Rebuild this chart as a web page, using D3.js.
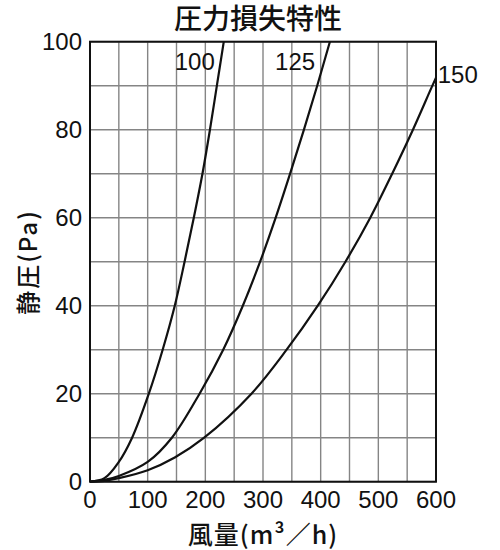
<!DOCTYPE html>
<html>
<head>
<meta charset="utf-8">
<script src="https://cdn.jsdelivr.net/npm/d3@7"></script>
<style>
  body { margin: 0; background: #fff; }
  svg { display: block; }
</style>
</head>
<body>
<svg id="chart" width="500" height="550"></svg>
<script>
// readings: flow (m3/h) against static pressure (Pa)
var flow100 = [0, 25, 50, 73, 102, 126, 147, 164, 180, 195, 208, 220, 232];
var pa100   = [0, 0.8, 4.5, 10, 20, 30, 40, 50, 60, 70, 80, 90, 100];
var flow125 = [0, 25, 50, 100, 142, 190, 231, 265, 295, 322, 347, 371, 394, 416];
var pa125   = [0, 0.4, 1.3, 4.5, 10, 20, 30, 40, 50, 60, 70, 80, 90, 100];
var flow150 = [0, 25, 50, 100, 147, 198, 280, 341, 395, 443, 486, 524, 560, 592, 600];
var pa150   = [0, 0.2, 0.8, 2.6, 5.5, 10, 20, 30, 40, 50, 60, 70, 80, 89.5, 91.8];

var seriesNames = ["100", "125", "150"];
var xTicks = [0, 100, 200, 300, 400, 500, 600];
var yTicks = [0, 20, 40, 60, 80, 100];
var xGrid = d3.range(0, 601, 50);
var yGrid = d3.range(0, 101, 10);

var title = "圧力損失特性";
var xLabel = "風量(m³／h)";
var yLabel = "静圧(Pa)";

var svg = d3.select("#chart");
var plotL = 90, plotR = 436, plotT = 41.7, plotB = 481.7;

var x = d3.scaleLinear().domain([0, 600]).range([plotL, plotR]);
var y = d3.scaleLinear().domain([0, 100]).range([plotB, plotT]);

var latin = "'Liberation Sans', Arial, sans-serif";
var cjk = "'Noto Sans CJK JP', 'Noto Sans', sans-serif";

// grid
var grid = svg.append("g")
    .attr("stroke", "#858585")
    .attr("stroke-width", 1.4);
grid.selectAll("line.v")
    .data(xGrid)
    .enter().append("line")
    .attr("class", "v")
    .attr("x1", function(d) { return x(d); })
    .attr("x2", function(d) { return x(d); })
    .attr("y1", y(0))
    .attr("y2", y(100));
grid.selectAll("line.h")
    .data(yGrid)
    .enter().append("line")
    .attr("class", "h")
    .attr("x1", x(0))
    .attr("x2", x(600))
    .attr("y1", function(d) { return y(d); })
    .attr("y2", function(d) { return y(d); });

// curves
var series = [
    {name: seriesNames[0], flow: flow100, pa: pa100, lx: 147, ly: 93.6},
    {name: seriesNames[1], flow: flow125, pa: pa125, lx: 321, ly: 93.6},
    {name: seriesNames[2], flow: flow150, pa: pa150, lx: 603, ly: 90.6}
];
var line = d3.line()
    .x(function(d) { return x(d[0]); })
    .y(function(d) { return y(d[1]); })
    .curve(d3.curveCatmullRom.alpha(0.5));

series.forEach(function(s) {
    var pts = s.flow.map(function(f, i) { return [f, s.pa[i]]; });
    svg.append("path")
        .attr("d", line(pts))
        .attr("fill", "none")
        .attr("stroke", "#111")
        .attr("stroke-width", 2.2);
    svg.append("text")
        .attr("x", x(s.lx))
        .attr("y", y(s.ly))
        .attr("font-family", latin)
        .attr("font-size", 24)
        .attr("fill", "#111")
        .text(s.name);
});

// frame
svg.append("rect")
    .attr("x", x(0))
    .attr("y", y(100))
    .attr("width", x(600) - x(0))
    .attr("height", y(0) - y(100))
    .attr("fill", "none")
    .attr("stroke", "#111")
    .attr("stroke-width", 2);

// tick labels
svg.append("g").selectAll("text")
    .data(xTicks)
    .enter().append("text")
    .attr("x", function(d) { return x(d); })
    .attr("y", 508)
    .attr("text-anchor", "middle")
    .attr("font-family", latin)
    .attr("font-size", 24)
    .attr("fill", "#111")
    .text(function(d) { return d; });
svg.append("g").selectAll("text")
    .data(yTicks)
    .enter().append("text")
    .attr("x", 82)
    .attr("y", function(d) { return y(d); })
    .attr("dy", "0.36em")
    .attr("text-anchor", "end")
    .attr("font-family", latin)
    .attr("font-size", 24)
    .attr("fill", "#111")
    .text(function(d) { return d; });

// titles
svg.append("text")
    .attr("x", 258)
    .attr("y", 29)
    .attr("text-anchor", "middle")
    .attr("font-family", cjk)
    .attr("font-size", 28)
    .attr("font-weight", 500)
    .attr("fill", "#111")
    .text(title);
svg.append("text")
    .attr("x", 263)
    .attr("y", 544)
    .attr("text-anchor", "middle")
    .attr("font-family", cjk)
    .attr("font-size", 25)
    .attr("font-weight", 500)
    .attr("letter-spacing", 1)
    .attr("fill", "#111")
    .text(xLabel);
svg.append("text")
    .attr("transform", "translate(26,262) rotate(-90)")
    .attr("text-anchor", "middle")
    .attr("dominant-baseline", "central")
    .attr("font-family", cjk)
    .attr("font-size", 24)
    .attr("font-weight", 500)
    .attr("letter-spacing", 2)
    .attr("fill", "#111")
    .text(yLabel);
</script>
</body>
</html>
